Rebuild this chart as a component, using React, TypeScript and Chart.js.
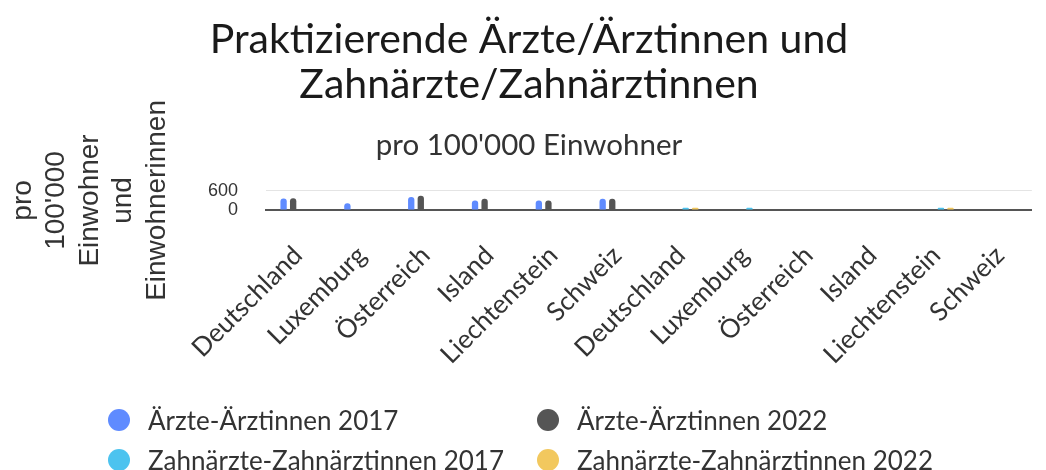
import React, { useEffect, useRef } from "react";
import { Chart, registerables } from "chart.js";

Chart.register(...registerables);

const categories = [
  "Deutschland", "Luxemburg", "Österreich", "Island", "Liechtenstein", "Schweiz",
  "Deutschland", "Luxemburg", "Österreich", "Island", "Liechtenstein", "Schweiz",
];
const seriesNames = [
  "Ärzte-Ärztinnen 2017",
  "Ärzte-Ärztinnen 2022",
  "Zahnärzte-Zahnärztinnen 2017",
  "Zahnärzte-Zahnärztinnen 2022",
];
const aerzte2017 = [360, 210, 410, 300, 300, 355, null, null, null, null, null, null];
const aerzte2022 = [365, null, 450, 355, 300, 355, null, null, null, null, null, null];
const zahn2017 = [null, null, null, null, null, null, 75, 70, null, null, 70, null];
const zahn2022 = [null, null, null, null, null, null, 75, null, null, null, 70, null];
const seriesColors = ["#5f8bff", "#555555", "#4cc3ef", "#f2c85e"];
const yTicks = [0, 600];
const titleLines = ["Praktizierende Ärzte/Ärztinnen und", "Zahnärzte/Zahnärztinnen"];
const subtitleText = "pro 100'000 Einwohner";
const yTitleLines = ["pro", "100'000", "Einwohner", "und", "Einwohnerinnen"];

const CANVAS_W = 1056;
const CANVAS_H = 402;

export default function App() {
  const canvasRef = useRef<HTMLCanvasElement | null>(null);

  useEffect(() => {
    if (!canvasRef.current) return;
    const allSeries = [aerzte2017, aerzte2022, zahn2017, zahn2022];
    const chart = new Chart(canvasRef.current, {
      type: "bar",
      data: {
        labels: categories,
        datasets: allSeries.map((d, i) => ({
          label: seriesNames[i],
          data: d,
          backgroundColor: seriesColors[i],
          borderRadius: 3,
          borderSkipped: "start",
          categoryPercentage: 0.6,
          barPercentage: 0.66,
        })),
      },
      options: {
        responsive: false,
        animation: false,
        devicePixelRatio: 1,
        layout: { padding: { left: 10, right: 0, top: 0, bottom: 10 } },
        plugins: {
          legend: { display: false },
          tooltip: { enabled: false },
          title: {
            display: true,
            text: titleLines,
            color: "#1a1a1a",
            font: { family: "Lato", size: 41, weight: "normal", lineHeight: 1.1 },
            padding: { top: 9, bottom: 10 },
          },
          subtitle: {
            display: true,
            text: subtitleText,
            color: "#333333",
            font: { family: "Lato", size: 29.5, weight: "normal", lineHeight: 1.14 },
            padding: { top: 11, bottom: 29 },
          },
        },
        scales: {
          x: {
            grid: { display: false, drawTicks: false },
            border: { display: true, color: "#555555", width: 2 },
            ticks: {
              autoSkip: false,
              minRotation: 45,
              maxRotation: 45,
              padding: 30,
              color: "#333333",
              font: { family: "Lato", size: 26 },
            },
          },
          y: {
            min: 0,
            max: 600,
            afterBuildTicks: (scale: any) => {
              scale.ticks = yTicks.map((v) => ({ value: v }));
            },
            grid: { color: "#e4e4e4", drawTicks: false },
            border: { display: false },
            ticks: {
              autoSkip: false,
              padding: 28,
              color: "#333333",
              font: { family: "Liberation Sans", size: 18 },
            },
            title: {
              display: true,
              text: yTitleLines,
              color: "#333333",
              font: { family: "Liberation Sans", size: 28, lineHeight: 1.2 },
              padding: { top: 0, bottom: 6 },
            },
          },
        },
      },
    });
    return () => chart.destroy();
  }, []);

  return (
    <div style={{ position: "relative", width: 1038, height: 462, overflow: "hidden" }}>
      <canvas
        ref={canvasRef}
        width={CANVAS_W}
        height={CANVAS_H}
        style={{ position: "absolute", left: -12, top: 0, width: CANVAS_W, height: CANVAS_H }}
      />
      <div
        style={{
          position: "absolute",
          left: 100,
          top: 392,
          display: "grid",
          gridTemplateColumns: "429px auto",
          fontFamily: "Lato",
          fontSize: 26,
          color: "#333333",
        }}
      >
        {seriesNames.map((name, i) => (
          <div key={name} style={{ display: "flex", alignItems: "center", height: 40, whiteSpace: "nowrap" }}>
            <span
              style={{
                display: "inline-block",
                width: 22,
                height: 22,
                borderRadius: "50%",
                background: seriesColors[i],
                marginRight: 18,
                flexShrink: 0,
              }}
            />
            {name}
          </div>
        ))}
      </div>
    </div>
  );
}
